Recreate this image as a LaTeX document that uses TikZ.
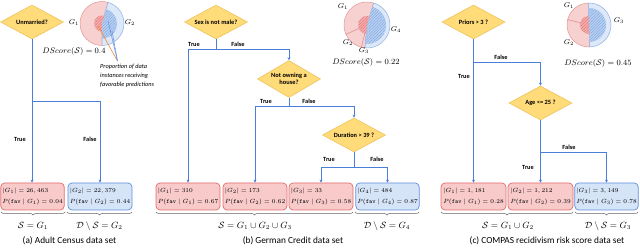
\documentclass[tikz,border=0pt]{standalone}
\usepackage{fontspec}
\setmainfont{Carlito}
\usetikzlibrary{shapes.geometric,arrows.meta,decorations.pathreplacing,patterns.meta}
\definecolor{dfill}{HTML}{FFDB7A}
\definecolor{ddraw}{HTML}{EDC35A}
\definecolor{rfill}{HTML}{F8CACA}
\definecolor{rdraw}{HTML}{E26B6B}
\definecolor{bfill}{HTML}{D6E4F8}
\definecolor{bdraw}{HTML}{5F8FDC}
\definecolor{conn}{HTML}{4A7FD8}
\definecolor{pr}{HTML}{F7D0D0}
\definecolor{prd}{HTML}{E39494}
\definecolor{prh}{HTML}{F4B0B0}
\definecolor{prl}{HTML}{E06A6A}
\definecolor{pb}{HTML}{DDE8F8}
\definecolor{pbd}{HTML}{8DB0E2}
\definecolor{pbh}{HTML}{B8D0F2}
\definecolor{pbl}{HTML}{7BA2DE}
\definecolor{orl}{HTML}{F08A3C}
\tikzset{
  dia/.style={shape=diamond, aspect=1.8, fill=dfill, draw=ddraw, line width=0.6pt, inner sep=0pt,
    minimum width=63pt, minimum height=34pt, font=\bfseries\fontsize{6.4}{7.2}\selectfont, align=center},
  rbox/.style={rectangle, rounded corners=4pt, fill=rfill, draw=rdraw, line width=0.7pt,
    minimum height=27pt, inner sep=1.5pt, align=left, font=\fontsize{6.1}{10.5}\selectfont},
  bbox/.style={rbox, fill=bfill, draw=bdraw},
  cline/.style={draw=conn, line width=0.7pt},
  arr/.style={cline, -{Stealth[length=3pt,width=3pt]}},
  lab/.style={font=\bfseries\fontsize{6.3}{7}\selectfont, inner sep=0pt},
  brc/.style={decorate, decoration={brace, amplitude=3pt}, draw=black!60, line width=0.5pt},
  blab/.style={font=\fontsize{9}{10}\selectfont, inner sep=0pt},
  captxt/.style={font=\fontsize{9.3}{11}\selectfont, inner sep=0pt},
  glab/.style={font=\fontsize{7}{8}\selectfont, inner sep=0pt},
  dsc/.style={font=\fontsize{8.5}{10}\selectfont, inner sep=0pt},
  redsec/.style={fill=pr, draw=prd, line width=0.5pt},
  bluesec/.style={fill=pb, draw=pbd, line width=0.5pt},
  redin/.style={fill=prh},
  bluein/.style={fill=pbh}
}
\begin{document}
\begin{tikzpicture}[x=1pt,y=-1pt]
\useasboundingbox (0,0) rectangle (640,248);

% ---------------- (a) ----------------
\begin{scope}[shift={(102,23.5)},yscale=-1]
  \filldraw[redsec] (0,0) -- (74:22) arc[start angle=74,end angle=270,radius=22] -- cycle;
  \filldraw[bluesec] (0,0) -- (-90:22) arc[start angle=-90,end angle=74,radius=22] -- cycle;
  \fill[bluein] (0,0) -- (-90:15) arc[start angle=-90,end angle=74,radius=15] -- cycle;
  \fill[pattern={Lines[angle=45,distance=2pt,line width=0.35pt]},pattern color=pbl] (0,0) -- (-90:15) arc[start angle=-90,end angle=74,radius=15] -- cycle;
  \fill[redin] (0,0) -- (74:8) arc[start angle=74,end angle=270,radius=8] -- cycle;
  \fill[pattern={Lines[angle=45,distance=2pt,line width=0.35pt]},pattern color=prl] (0,0) -- (74:8) arc[start angle=74,end angle=270,radius=8] -- cycle;
\end{scope}
\node[glab] (ga1) at (74,23) {$G_1$};
\node[glab] (ga2) at (130,23) {$G_2$};
\node[dsc] (dsa) at (74,52) {$DScore(\mathcal{S}) = 0.4$};
\coordinate (pt) at (117.5,61);
\draw[orl, line width=0.6pt] (98,26) -- (pt);
\draw[conn!80, line width=0.6pt] (108,21) -- (pt);
\draw[conn!80, line width=0.6pt] (112,31) -- (pt);
\node[anchor=north west, align=left, inner sep=0pt, font=\itshape\fontsize{6.3}{9}\selectfont] (ann) at (100,64)
  {Proportion of data\\instances receiving\\favorable predictions};

\node[dia] (d1) at (32,22) {Unmarried?};
\node[rbox, minimum width=63pt] (a1) at (32.5,196.5) {$|G_1| = 26,463$\\$P(\mathtt{fav}\mid G_1) = 0.04$};
\node[bbox, minimum width=64pt] (a2) at (100,196.5) {$|G_2| = 22,379$\\$P(\mathtt{fav}\mid G_2) = 0.44$};
\coordinate (ja) at (32.5,101);
\draw[arr] (d1.south) -- (d1.south |- a1.north);
\draw[arr] (ja) -| (a2.north);
\node[lab] (ta) at (20,139) {True};
\node[lab] (fa) at (90,139) {False};
\draw[brc] (65,212) -- (1,212);
\draw[brc] (132,212) -- (67,212);
\node[blab] (sa) at (33,226) {$\mathcal{S} = G_1$};
\node[blab] (dsa2) at (99.5,226) {$\mathcal{D}\setminus\mathcal{S} = G_2$};
\node[captxt] (capa) at (69.5,241) {(a) Adult Census data set};

% ---------------- (b) ----------------
\begin{scope}[shift={(367,25)},yscale=-1]
  \filldraw[redsec] (0,0) -- (73:23) arc[start angle=73,end angle=204,radius=23] -- cycle;
  \filldraw[redsec] (0,0) -- (204:23) arc[start angle=204,end angle=256,radius=23] -- cycle;
  \filldraw[redsec] (0,0) -- (256:23) arc[start angle=256,end angle=265,radius=23] -- cycle;
  \filldraw[bluesec] (0,0) -- (-95:23) arc[start angle=-95,end angle=73,radius=23] -- cycle;
  \fill[bluein] (0,0) -- (-95:19) arc[start angle=-95,end angle=73,radius=19] -- cycle;
  \fill[pattern={Lines[angle=45,distance=2pt,line width=0.35pt]},pattern color=pbl] (0,0) -- (-95:19) arc[start angle=-95,end angle=73,radius=19] -- cycle;
  \fill[redin] (0,0) -- (73:9) arc[start angle=73,end angle=265,radius=9] -- cycle;
  \fill[pattern={Lines[angle=45,distance=2pt,line width=0.35pt]},pattern color=prl] (0,0) -- (73:9) arc[start angle=73,end angle=265,radius=9] -- cycle;
\end{scope}
\node[glab] (gb1) at (343,7) {$G_1$};
\node[glab] (gb2) at (348,43) {$G_2$};
\node[glab] (gb3) at (364,51) {$G_3$};
\node[glab] (gb4) at (396,30) {$G_4$};
\node[dsc] (dsb) at (366,63) {$DScore(\mathcal{S}) = 0.22$};

\node[dia] (d2) at (216,22) {Sex is not male?};
\node[dia, minimum height=37pt] (d3) at (289,79) {Not owning a\\house?};
\node[dia] (d4) at (354,135) {Duration > 39 ?};
\node[rbox, minimum width=64pt] (b1) at (188,196.5) {$|G_1| = 310$\\$P(\mathtt{fav}\mid G_1) = 0.67$};
\node[rbox, minimum width=64pt] (b2) at (255,196.5) {$|G_2| = 173$\\$P(\mathtt{fav}\mid G_2) = 0.62$};
\node[rbox, minimum width=64pt] (b3) at (321,196.5) {$|G_3| = 33$\\$P(\mathtt{fav}\mid G_3) = 0.58$};
\node[bbox, minimum width=63pt] (b4) at (387.5,196.5) {$|G_4| = 484$\\$P(\mathtt{fav}\mid G_4) = 0.87$};
\coordinate (j2) at (216,49);
\coordinate (j3) at (289,106);
\coordinate (j4) at (354,167);
\draw[cline] (d2.south) -- (j2);
\draw[arr] (j2) -| (b1.north);
\draw[arr] (j2) -| (d3.north);
\draw[cline] (d3.south) -- (j3);
\draw[arr] (j3) -| (b2.north);
\draw[arr] (j3) -| (d4.north);
\draw[cline] (d4.south) -- (j4);
\draw[arr] (j4) -| (b3.north);
\draw[arr] (j4) -| (b4.north);
\node[lab] (tb1) at (194,44) {True};
\node[lab] (fb1) at (238,44) {False};
\node[lab] (tb2) at (266,101) {True};
\node[lab] (fb2) at (309,101) {False};
\node[lab] (tb3) at (329,159) {True};
\node[lab] (fb3) at (377,159) {False};
\draw[brc] (353,212) -- (156,212);
\draw[brc] (419,212) -- (355,212);
\node[blab] (sb) at (255,226) {$\mathcal{S} = G_1\cup G_2\cup G_3$};
\node[blab] (dsb2) at (387,226) {$\mathcal{D}\setminus\mathcal{S} = G_4$};
\node[captxt] (capb) at (293,241) {(b) German Credit data set};

% ---------------- (c) ----------------
\begin{scope}[shift={(589,25)},yscale=-1]
  \filldraw[redsec] (0,0) -- (92:22) arc[start angle=92,end angle=166,radius=22] -- cycle;
  \filldraw[redsec] (0,0) -- (166:22) arc[start angle=166,end angle=272,radius=22] -- cycle;
  \filldraw[bluesec] (0,0) -- (-88:22) arc[start angle=-88,end angle=92,radius=22] -- cycle;
  \fill[bluein] (0,0) -- (-88:17) arc[start angle=-88,end angle=92,radius=17] -- cycle;
  \fill[pattern={Lines[angle=45,distance=2pt,line width=0.35pt]},pattern color=pbl] (0,0) -- (-88:17) arc[start angle=-88,end angle=92,radius=17] -- cycle;
  \fill[redin] (0,0) -- (92:9) arc[start angle=92,end angle=272,radius=9] -- cycle;
  \fill[pattern={Lines[angle=45,distance=2pt,line width=0.35pt]},pattern color=prl] (0,0) -- (92:9) arc[start angle=92,end angle=272,radius=9] -- cycle;
\end{scope}
\node[glab] (gc1) at (569,6) {$G_1$};
\node[glab] (gc2) at (569,43) {$G_2$};
\node[glab] (gc3) at (619,21) {$G_3$};
\node[dsc] (dsc1) at (598,64) {$DScore(\mathcal{S}) = 0.45$};

\node[dia] (d5) at (473.5,22) {Priors > 3 ?};
\node[dia] (d6) at (540.5,103) {Age <= 25 ?};
\node[rbox, minimum width=65pt] (c1) at (473.5,196.5) {$|G_1| = 1,181$\\$P(\mathtt{fav}\mid G_1) = 0.28$};
\node[rbox, minimum width=65pt] (c2) at (540.5,196.5) {$|G_2| = 1,212$\\$P(\mathtt{fav}\mid G_2) = 0.39$};
\node[bbox, minimum width=63pt] (c3) at (606.5,196.5) {$|G_3| = 3,149$\\$P(\mathtt{fav}\mid G_3) = 0.78$};
\coordinate (j5) at (473.5,62);
\coordinate (j6) at (540.5,152);
\draw[arr] (d5.south) -- (d5.south |- c1.north);
\draw[arr] (j5) -| (d6.north);
\draw[arr] (d6.south) -- (d6.south |- c2.north);
\draw[arr] (j6) -| (c3.north);
\node[lab] (fc1) at (501,57) {False};
\node[lab] (tc1) at (464,76) {True};
\node[lab] (fc2) at (569,147) {False};
\node[lab] (tc2) at (528,167) {True};
\draw[brc] (573,212) -- (441,212);
\draw[brc] (638,212) -- (575,212);
\node[blab] (sc) at (508,226) {$\mathcal{S} = G_1\cup G_2$};
\node[blab] (dsc2) at (608,226) {$\mathcal{D}\setminus\mathcal{S} = G_3$};
\node[captxt] (capc) at (547,241) {(c) COMPAS recidivism risk score data set};
\end{tikzpicture}
\end{document}
